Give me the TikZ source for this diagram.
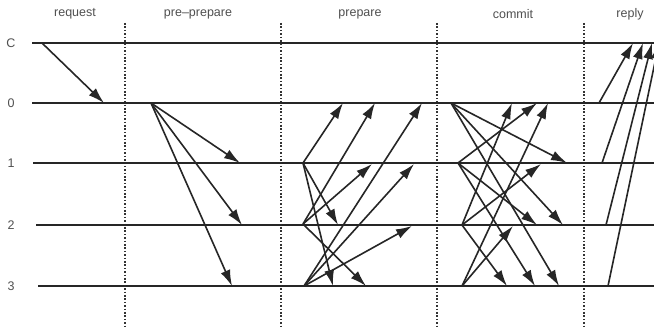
\documentclass[tikz,border=0pt]{standalone}
\usepackage{fontspec}
\setmainfont{Liberation Sans}
\usetikzlibrary{arrows.meta}
\definecolor{ink}{HTML}{262626}
\definecolor{txt}{HTML}{505050}
\definecolor{dotc}{HTML}{333333}
\begin{document}
\begin{tikzpicture}[x=1pt,y=-1pt,
  lane/.style={ink,line width=2.2pt},
  msg/.style={ink,line width=1.6pt,-{Latex[length=16pt,width=10pt]}},
  phase/.style={dotc,line width=1.8pt,dash pattern=on 1.6pt off 1.8pt},
  headtxt/.style={txt,font=\fontsize{12.5}{14}\selectfont},
  rid/.style={txt,font=\fontsize{12.5}{14}\selectfont}]
\useasboundingbox (0,0) rectangle (654,328);
\fill[white] (0,0) rectangle (654,328);

% phase headers
\node[headtxt] (hreq) at (75,14) {request};
\node[headtxt] (hpp)  at (198,14) {pre–prepare};
\node[headtxt] (hpr)  at (360,14) {prepare};
\node[headtxt] (hcm)  at (513,14) {commit};
\node[headtxt] (hrp)  at (630,14) {reply};

% phase dividers
\coordinate (d1t) at (125,23); \coordinate (d1b) at (125,328);
\coordinate (d2t) at (281,23); \coordinate (d2b) at (281,328);
\coordinate (d3t) at (437,23); \coordinate (d3b) at (437,328);
\coordinate (d4t) at (584,23); \coordinate (d4b) at (584,328);
\draw[phase] (d1t) -- (d1b);
\draw[phase] (d2t) -- (d2b);
\draw[phase] (d3t) -- (d3b);
\draw[phase] (d4t) -- (d4b);

% lanes
\node[rid] (lC) at (11,43) {C};
\node[rid] (l0) at (11,103) {0};
\node[rid] (l1) at (11,163) {1};
\node[rid] (l2) at (11,225) {2};
\node[rid] (l3) at (11,286) {3};
\coordinate (sC) at (32,43);  \coordinate (eC) at (654,43);
\coordinate (s0) at (32,103); \coordinate (e0) at (654,103);
\coordinate (s1) at (33,163); \coordinate (e1) at (654,163);
\coordinate (s2) at (36,225); \coordinate (e2) at (654,225);
\coordinate (s3) at (38,286); \coordinate (e3) at (654,286);
\draw[lane] (sC) -- (eC);
\draw[lane] (s0) -- (e0);
\draw[lane] (s1) -- (e1);
\draw[lane] (s2) -- (e2);
\draw[lane] (s3) -- (e3);

% request
\coordinate (rqa) at (42,43); \coordinate (rqb) at (104,103);
\draw[msg] (rqa) -- (rqb);

% pre-prepare
\coordinate (pp0) at (151,103);
\coordinate (pp1) at (240,163);
\coordinate (pp2) at (242,225);
\coordinate (pp3) at (232,286);
\draw[msg] (pp0) -- (pp1);
\draw[msg] (pp0) -- (pp2);
\draw[msg] (pp0) -- (pp3);

% prepare
\coordinate (pa1) at (303,163);
\coordinate (pa2) at (303,224);
\coordinate (pa3) at (304,286);
\coordinate (pa10) at (343,103); \coordinate (pa12) at (338,225); \coordinate (pa13) at (333,286);
\coordinate (pa20) at (375,103); \coordinate (pa21) at (372,164); \coordinate (pa23) at (366,286);
\coordinate (pa30) at (422,103); \coordinate (pa31) at (414,164); \coordinate (pa32) at (412,226);
\draw[msg] (pa1) -- (pa10);
\draw[msg] (pa1) -- (pa12);
\draw[msg] (pa1) -- (pa13);
\draw[msg] (pa2) -- (pa20);
\draw[msg] (pa2) -- (pa21);
\draw[msg] (pa2) -- (pa23);
\draw[msg] (pa3) -- (pa30);
\draw[msg] (pa3) -- (pa31);
\draw[msg] (pa3) -- (pa32);

% commit
\coordinate (cm0) at (451,103);
\coordinate (cm1) at (458,163);
\coordinate (cm2) at (462,225);
\coordinate (cm3) at (462,286);
\coordinate (cm01) at (567,163); \coordinate (cm02) at (563,225); \coordinate (cm03) at (559,286);
\coordinate (cm10) at (537,103); \coordinate (cm12) at (537,225); \coordinate (cm13) at (535,286);
\coordinate (cm20) at (512,103); \coordinate (cm21) at (541,164); \coordinate (cm23) at (507,286);
\coordinate (cm30) at (548,103); \coordinate (cm32) at (513,226);
\draw[msg] (cm0) -- (cm01);
\draw[msg] (cm0) -- (cm02);
\draw[msg] (cm0) -- (cm03);
\draw[msg] (cm1) -- (cm10);
\draw[msg] (cm1) -- (cm12);
\draw[msg] (cm1) -- (cm13);
\draw[msg] (cm2) -- (cm20);
\draw[msg] (cm2) -- (cm21);
\draw[msg] (cm2) -- (cm23);
\draw[msg] (cm3) -- (cm30);
\draw[msg] (cm3) -- (cm32);

% reply
\coordinate (rp0) at (599,103); \coordinate (rpc0) at (633,43);
\coordinate (rp1) at (602,163); \coordinate (rpc1) at (643,43);
\coordinate (rp2) at (606,225); \coordinate (rpc2) at (652,43);
\coordinate (rp3) at (608,286); \coordinate (rpc3) at (659,43);
\draw[msg] (rp0) -- (rpc0);
\draw[msg] (rp1) -- (rpc1);
\draw[msg] (rp2) -- (rpc2);
\draw[msg] (rp3) -- (rpc3);
\end{tikzpicture}
\end{document}
